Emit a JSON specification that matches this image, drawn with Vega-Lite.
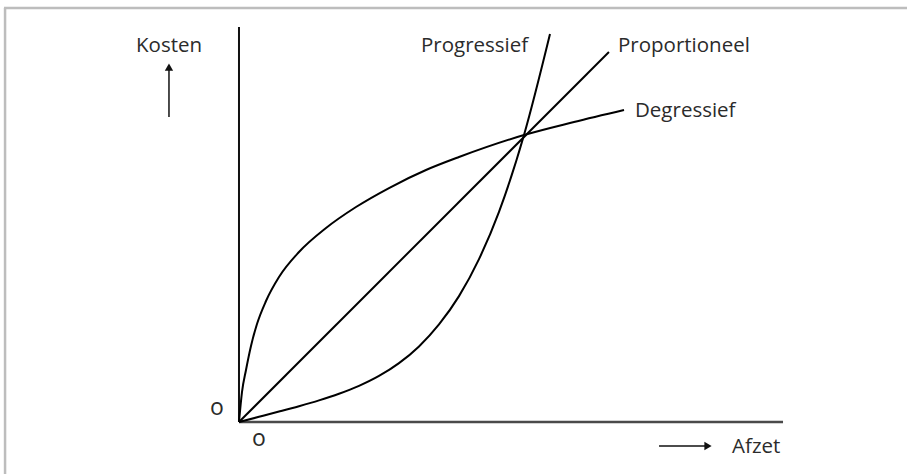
{
  "$schema": "https://vega.github.io/schema/vega-lite/v6.json",
  "width": 907,
  "height": 474,
  "padding": 0,
  "autosize": {"type": "none"},
  "background": "white",
  "config": {"view": {"stroke": null}},
  "datasets": {
    "curves": [
      {"series": "Proportioneel", "i": 0, "x": 0, "y": 0},
      {"series": "Proportioneel", "i": 1, "x": 68.0, "y": 93.67},
      {"series": "Progressief", "i": 0, "x": 0, "y": 0},
      {"series": "Progressief", "i": 1, "x": 3.676, "y": 1.316},
      {"series": "Progressief", "i": 2, "x": 7.353, "y": 2.643},
      {"series": "Progressief", "i": 3, "x": 11.029, "y": 4.01},
      {"series": "Progressief", "i": 4, "x": 14.706, "y": 5.478},
      {"series": "Progressief", "i": 5, "x": 18.382, "y": 7.147},
      {"series": "Progressief", "i": 6, "x": 22.059, "y": 9.152},
      {"series": "Progressief", "i": 7, "x": 25.735, "y": 11.666},
      {"series": "Progressief", "i": 8, "x": 29.412, "y": 14.911},
      {"series": "Progressief", "i": 9, "x": 33.088, "y": 19.139},
      {"series": "Progressief", "i": 10, "x": 36.765, "y": 24.709},
      {"series": "Progressief", "i": 11, "x": 40.441, "y": 31.873},
      {"series": "Progressief", "i": 12, "x": 44.118, "y": 41.241},
      {"series": "Progressief", "i": 13, "x": 47.794, "y": 53.215},
      {"series": "Progressief", "i": 14, "x": 52.39, "y": 72.658},
      {"series": "Progressief", "i": 15, "x": 57.169, "y": 98.228},
      {"series": "Degressief", "i": 0, "x": 0, "y": 0},
      {"series": "Degressief", "i": 1, "x": 0.551, "y": 7.595},
      {"series": "Degressief", "i": 2, "x": 1.287, "y": 13.165},
      {"series": "Degressief", "i": 3, "x": 2.206, "y": 19.241},
      {"series": "Degressief", "i": 4, "x": 3.309, "y": 24.81},
      {"series": "Degressief", "i": 5, "x": 4.963, "y": 30.633},
      {"series": "Degressief", "i": 6, "x": 7.353, "y": 36.709},
      {"series": "Degressief", "i": 7, "x": 11.029, "y": 43.038},
      {"series": "Degressief", "i": 8, "x": 15.993, "y": 49.114},
      {"series": "Degressief", "i": 9, "x": 21.507, "y": 54.43},
      {"series": "Degressief", "i": 10, "x": 27.574, "y": 59.241},
      {"series": "Degressief", "i": 11, "x": 34.375, "y": 63.797},
      {"series": "Degressief", "i": 12, "x": 40.441, "y": 67.089},
      {"series": "Degressief", "i": 13, "x": 52.39, "y": 72.658},
      {"series": "Degressief", "i": 14, "x": 61.581, "y": 75.949},
      {"series": "Degressief", "i": 15, "x": 70.772, "y": 78.987}
    ],
    "frame": [
      {"part": "top", "x": -43.2, "y": 104.81, "x2": 122.8, "y2": 104.81},
      {"part": "left", "x": -43.0, "y": 104.81, "x2": -43.0, "y2": -13.2}
    ],
    "axes": [
      {"part": "vertical", "x": 0, "y": 0, "x2": 0, "y2": 100},
      {"part": "horizontal", "x": 0, "y": 0, "x2": 100, "y2": 0}
    ],
    "arrows": [
      {"dir": "up", "x": -12.87, "y": 77.22, "x2": -12.87, "y2": 89.5},
      {"dir": "right", "x": 77.21, "y": -6.08, "x2": 85.66, "y2": -6.08}
    ],
    "heads": [
      {"dir": "up", "x": -12.87, "y": 89.87},
      {"dir": "right", "x": 86.21, "y": -6.08}
    ],
    "labels": [
      {"text": "Kosten", "x": -18.93, "y": 93.67},
      {"text": "Progressief", "x": 33.46, "y": 93.67},
      {"text": "Proportioneel", "x": 69.67, "y": 93.67},
      {"text": "Degressief", "x": 72.79, "y": 77.22},
      {"text": "Afzet", "x": 90.63, "y": -7.85}
    ],
    "zeros": [
      {"text": "o", "x": -5.33, "y": 1.77},
      {"text": "o", "x": 2.39, "y": -6.08}
    ]
  },
  "layer": [
    {
      "data": {"name": "frame"},
      "mark": {"type": "rule", "stroke": "#bdbdbd", "strokeWidth": 2.5},
      "encoding": {
        "x": {"field": "x", "type": "quantitative", "scale": {"domain": [-43.93, 122.79], "nice": false, "zero": false}, "axis": null},
        "y": {"field": "y", "type": "quantitative", "scale": {"domain": [-13.16, 106.84], "nice": false, "zero": false}, "axis": null},
        "x2": {"field": "x2"},
        "y2": {"field": "y2"}
      }
    },
    {
      "data": {"name": "axes"},
      "transform": [{"filter": "datum.part === 'vertical'"}],
      "mark": {"type": "rule", "stroke": "#111", "strokeWidth": 2},
      "encoding": {
        "x": {"field": "x", "type": "quantitative", "scale": {"domain": [-43.93, 122.79], "nice": false, "zero": false}, "axis": null},
        "y": {"field": "y", "type": "quantitative", "scale": {"domain": [-13.16, 106.84], "nice": false, "zero": false}, "axis": null},
        "x2": {"field": "x2"},
        "y2": {"field": "y2"}
      }
    },
    {
      "data": {"name": "axes"},
      "transform": [{"filter": "datum.part === 'horizontal'"}],
      "mark": {"type": "rule", "stroke": "#4a4a4a", "strokeWidth": 2.5},
      "encoding": {
        "x": {"field": "x", "type": "quantitative", "scale": {"domain": [-43.93, 122.79], "nice": false, "zero": false}, "axis": null},
        "y": {"field": "y", "type": "quantitative", "scale": {"domain": [-13.16, 106.84], "nice": false, "zero": false}, "axis": null},
        "x2": {"field": "x2"},
        "y2": {"field": "y2"}
      }
    },
    {
      "data": {"name": "curves"},
      "mark": {"type": "line", "stroke": "#000", "strokeWidth": 2, "interpolate": "monotone"},
      "encoding": {
        "x": {"field": "x", "type": "quantitative", "scale": {"domain": [-43.93, 122.79], "nice": false, "zero": false}, "axis": null},
        "y": {"field": "y", "type": "quantitative", "scale": {"domain": [-13.16, 106.84], "nice": false, "zero": false}, "axis": null},
        "detail": {"field": "series"},
        "order": {"field": "i", "type": "quantitative"}
      }
    },
    {
      "data": {"name": "arrows"},
      "mark": {"type": "rule", "stroke": "#111", "strokeWidth": 1.5},
      "encoding": {
        "x": {"field": "x", "type": "quantitative", "scale": {"domain": [-43.93, 122.79], "nice": false, "zero": false}, "axis": null},
        "y": {"field": "y", "type": "quantitative", "scale": {"domain": [-13.16, 106.84], "nice": false, "zero": false}, "axis": null},
        "x2": {"field": "x2"},
        "y2": {"field": "y2"}
      }
    },
    {
      "data": {"name": "heads"},
      "transform": [{"filter": "datum.dir === 'up'"}],
      "mark": {"type": "point", "shape": "triangle-up", "filled": true, "color": "#111", "size": 70, "opacity": 1},
      "encoding": {
        "x": {"field": "x", "type": "quantitative", "scale": {"domain": [-43.93, 122.79], "nice": false, "zero": false}, "axis": null},
        "y": {"field": "y", "type": "quantitative", "scale": {"domain": [-13.16, 106.84], "nice": false, "zero": false}, "axis": null}
      }
    },
    {
      "data": {"name": "heads"},
      "transform": [{"filter": "datum.dir === 'right'"}],
      "mark": {"type": "point", "shape": "triangle-right", "filled": true, "color": "#111", "size": 70, "opacity": 1},
      "encoding": {
        "x": {"field": "x", "type": "quantitative", "scale": {"domain": [-43.93, 122.79], "nice": false, "zero": false}, "axis": null},
        "y": {"field": "y", "type": "quantitative", "scale": {"domain": [-13.16, 106.84], "nice": false, "zero": false}, "axis": null}
      }
    },
    {
      "data": {"name": "labels"},
      "mark": {"type": "text", "align": "left", "baseline": "alphabetic", "font": "Open Sans", "fontSize": 20.5, "color": "#2b2b2b"},
      "encoding": {
        "x": {"field": "x", "type": "quantitative", "scale": {"domain": [-43.93, 122.79], "nice": false, "zero": false}, "axis": null},
        "y": {"field": "y", "type": "quantitative", "scale": {"domain": [-13.16, 106.84], "nice": false, "zero": false}, "axis": null},
        "text": {"field": "text"}
      }
    },
    {
      "data": {"name": "zeros"},
      "mark": {"type": "text", "align": "left", "baseline": "alphabetic", "font": "Open Sans", "fontSize": 23, "color": "#2b2b2b"},
      "encoding": {
        "x": {"field": "x", "type": "quantitative", "scale": {"domain": [-43.93, 122.79], "nice": false, "zero": false}, "axis": null},
        "y": {"field": "y", "type": "quantitative", "scale": {"domain": [-13.16, 106.84], "nice": false, "zero": false}, "axis": null},
        "text": {"field": "text"}
      }
    }
  ]
}
